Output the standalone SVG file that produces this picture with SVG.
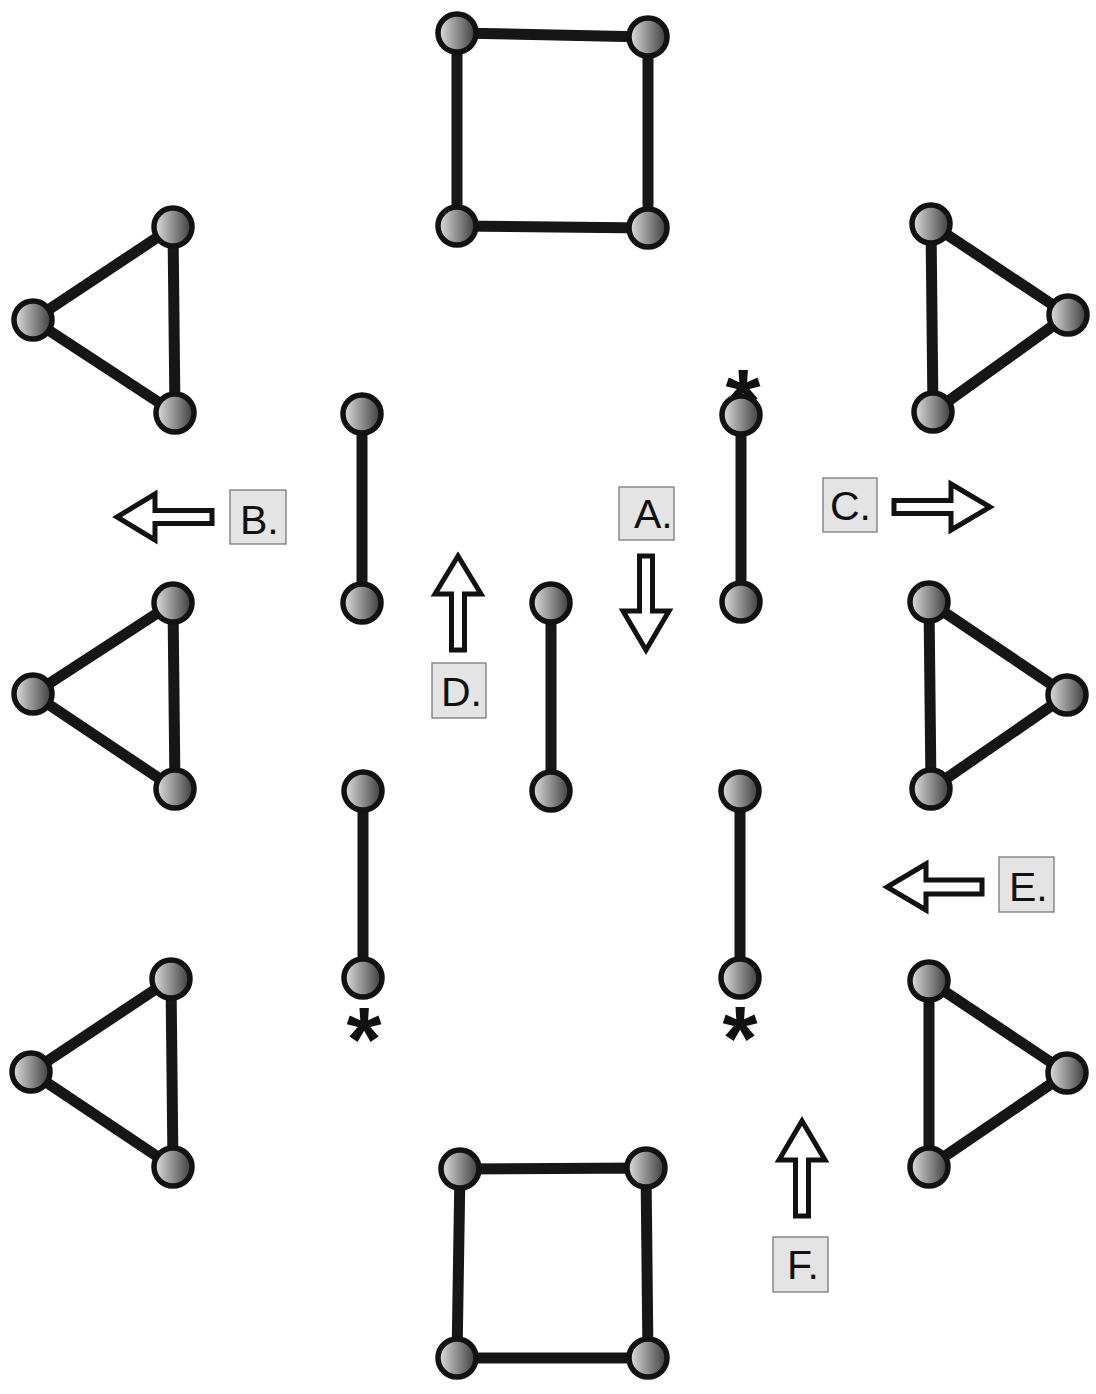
<svg xmlns="http://www.w3.org/2000/svg" width="1096" height="1394" viewBox="0 0 1096 1394">
<defs>
<linearGradient id="g" x1="0" y1="0" x2="1" y2="0">
<stop offset="0" stop-color="#e2e2e2"/>
<stop offset="1" stop-color="#3a3a3a"/>
</linearGradient>
<style>
.e{stroke:#161616;stroke-width:11;fill:none;stroke-linecap:round;stroke-linejoin:round}
.n{fill:url(#g);stroke:#121212;stroke-width:5.5}
.ar{fill:#fff;stroke:#121212;stroke-width:5;stroke-linejoin:miter}
.lb{fill:#e4e4e4;stroke:#7a7a7a;stroke-width:1.3}
.t{font-family:"Liberation Sans",Arial,sans-serif;font-size:41px;fill:#111}
.s{font-family:"Liberation Sans",Arial,sans-serif;font-size:90px;font-weight:bold;fill:#111;text-anchor:middle}
</style>
</defs>
<rect width="1096" height="1394" fill="#fff"/>
<g id="connectors">
<path class="e" d="M457,33 L648,37 L648,228 L457,226 Z"/>
<path class="e" d="M173,227 L33,320 L175,413 Z"/>
<path class="e" d="M173,603 L33,694 L175,789 Z"/>
<path class="e" d="M171,979 L31,1072 L173,1167 Z"/>
<path class="e" d="M931,224 L1068,315 L933,412 Z"/>
<path class="e" d="M929,602 L1067,695 L931,789 Z"/>
<path class="e" d="M929,981 L1067,1073 L929,1167 Z"/>
<path class="e" d="M460,1169 L646,1168 L648,1358 L457,1358 Z"/>
<path class="e" d="M362,414 L362,603"/>
<path class="e" d="M551,603 L551,791"/>
<path class="e" d="M741,415 L741,602"/>
<path class="e" d="M363,791 L363,978"/>
<path class="e" d="M740,791 L740,978"/>
</g>
<g id="asterisks">
<text class="s" x="743" y="433">*</text>
<text class="s" x="364" y="1071">*</text>
<text class="s" x="740" y="1070">*</text>
</g>
<g id="square-top">
<circle class="n" cx="457" cy="33" r="19"/>
<circle class="n" cx="648" cy="37" r="19"/>
<circle class="n" cx="457" cy="226" r="19"/>
<circle class="n" cx="648" cy="228" r="19"/>
</g>
<g id="triangle-left-1">
<circle class="n" cx="173" cy="227" r="19"/>
<circle class="n" cx="33" cy="320" r="19"/>
<circle class="n" cx="175" cy="413" r="19"/>
</g>
<g id="triangle-left-2">
<circle class="n" cx="173" cy="603" r="19"/>
<circle class="n" cx="33" cy="694" r="19"/>
<circle class="n" cx="175" cy="789" r="19"/>
</g>
<g id="triangle-left-3">
<circle class="n" cx="171" cy="979" r="19"/>
<circle class="n" cx="31" cy="1072" r="19"/>
<circle class="n" cx="173" cy="1167" r="19"/>
</g>
<g id="triangle-right-1">
<circle class="n" cx="931" cy="224" r="19"/>
<circle class="n" cx="1068" cy="315" r="19"/>
<circle class="n" cx="933" cy="412" r="19"/>
</g>
<g id="triangle-right-2">
<circle class="n" cx="929" cy="602" r="19"/>
<circle class="n" cx="1067" cy="695" r="19"/>
<circle class="n" cx="931" cy="789" r="19"/>
</g>
<g id="triangle-right-3">
<circle class="n" cx="929" cy="981" r="19"/>
<circle class="n" cx="1067" cy="1073" r="19"/>
<circle class="n" cx="929" cy="1167" r="19"/>
</g>
<g id="square-bottom">
<circle class="n" cx="460" cy="1169" r="19"/>
<circle class="n" cx="646" cy="1168" r="19"/>
<circle class="n" cx="457" cy="1358" r="19"/>
<circle class="n" cx="648" cy="1358" r="19"/>
</g>
<g id="segment-1">
<circle class="n" cx="362" cy="414" r="19"/>
<circle class="n" cx="362" cy="603" r="19"/>
</g>
<g id="segment-2">
<circle class="n" cx="551" cy="603" r="19"/>
<circle class="n" cx="551" cy="791" r="19"/>
</g>
<g id="segment-3">
<circle class="n" cx="741" cy="415" r="19"/>
<circle class="n" cx="741" cy="602" r="19"/>
</g>
<g id="segment-4">
<circle class="n" cx="363" cy="791" r="19"/>
<circle class="n" cx="363" cy="978" r="19"/>
</g>
<g id="segment-5">
<circle class="n" cx="740" cy="791" r="19"/>
<circle class="n" cx="740" cy="978" r="19"/>
</g>
<g id="arrow-A">
<path class="ar" d="M639.5,556 L652.5,556 L652.5,611 L669,611 L646,650 L623,611 L639.5,611 Z"/>
<rect class="lb" x="619" y="487" width="55" height="53"/>
<text class="t" x="634" y="528">A.</text>
</g>
<g id="arrow-B">
<path class="ar" d="M212,510.5 L212,523.5 L155,523.5 L155,540 L117,517 L155,494 L155,510.5 Z"/>
<rect class="lb" x="230" y="490" width="56" height="54"/>
<text class="t" x="240" y="534">B.</text>
</g>
<g id="arrow-C">
<path class="ar" d="M894,500.5 L951,500.5 L951,484 L990,507 L951,530 L951,513.5 L894,513.5 Z"/>
<rect class="lb" x="823" y="478" width="54" height="54"/>
<text class="t" x="830" y="520">C.</text>
</g>
<g id="arrow-D">
<path class="ar" d="M451.5,650 L451.5,594 L435,594 L458,556 L481,594 L464.5,594 L464.5,650 Z"/>
<rect class="lb" x="432" y="663" width="54" height="55"/>
<text class="t" x="441" y="706">D.</text>
</g>
<g id="arrow-E">
<path class="ar" d="M982,880 L982,894 L926,894 L926,910 L887,887 L926,864 L926,880 Z"/>
<rect class="lb" x="999" y="857" width="55" height="55"/>
<text class="t" x="1009" y="901">E.</text>
</g>
<g id="arrow-F">
<path class="ar" d="M795.5,1216 L795.5,1160 L779,1160 L802,1121 L825,1160 L808.5,1160 L808.5,1216 Z"/>
<rect class="lb" x="773" y="1237" width="55" height="55"/>
<text class="t" x="787" y="1279">F.</text>
</g>
</svg>
